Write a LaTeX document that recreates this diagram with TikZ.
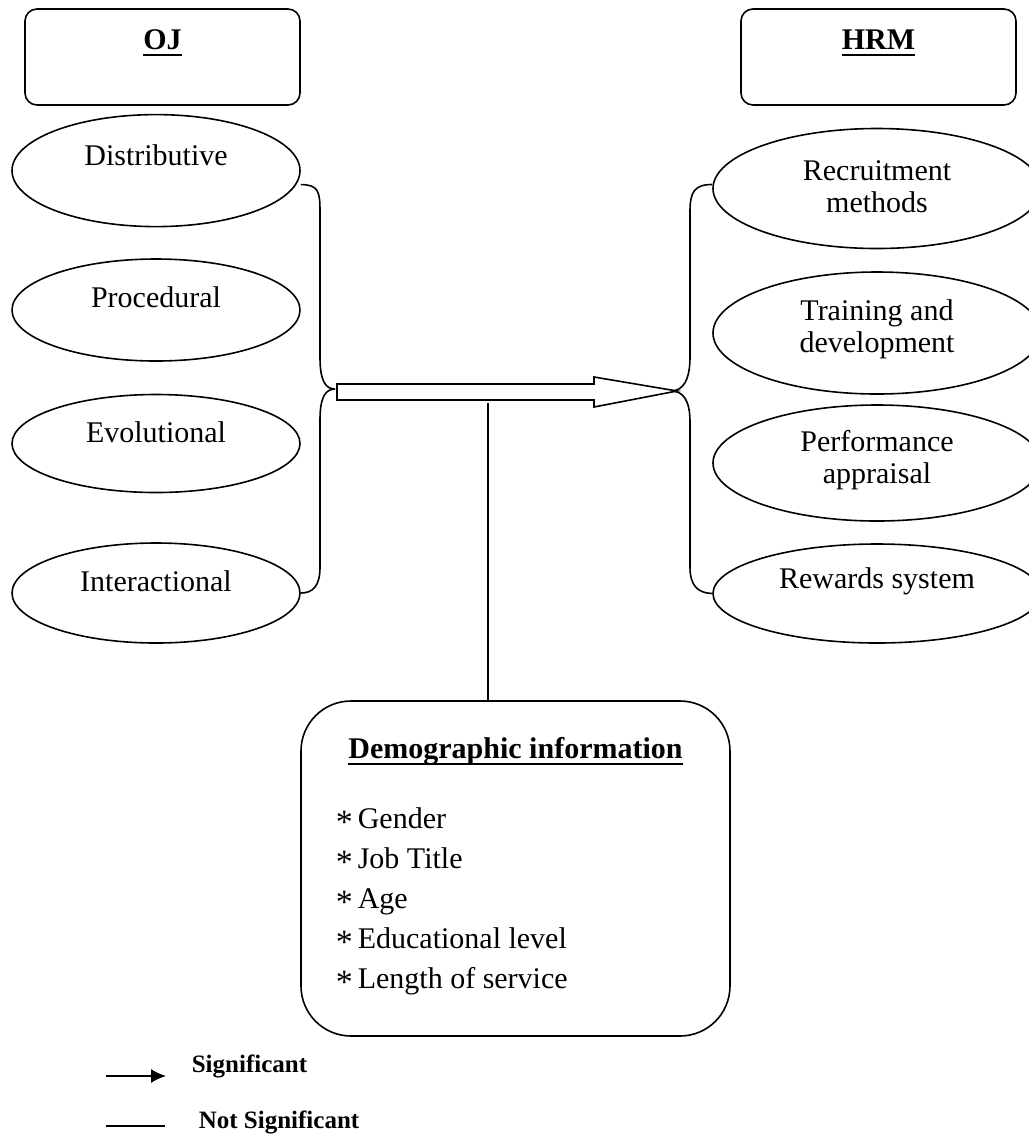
\documentclass[tikz,border=0pt]{standalone}
\usepackage{fontspec}
\setmainfont{Liberation Serif}
\usetikzlibrary{shapes.geometric,arrows.meta}
% thick underline for the bold headings
\newcommand\headline[1]{\setbox0\hbox{#1}\rlap{\rule[-3.6pt]{\wd0}{1.3pt}}\box0}
% asterisk for the list
\newcommand\listmark{\makebox[11pt][l]{\raisebox{-2.5pt}{\fontsize{17}{17}\selectfont *}}}

\begin{document}
\begin{tikzpicture}[x=0.5pt,y=-0.5pt,line width=0.8pt,
    font=\fontsize{15}{16}\selectfont,
    headbox/.style={draw,rounded corners=6pt,minimum width=137.5pt,minimum height=48pt},
    headtext/.style={anchor=base,font=\fontsize{15}{16}\selectfont\bfseries},
    oval/.style={draw,ellipse,inner sep=0pt},
    ovaltext/.style={align=center},
    demobox/.style={draw,rounded corners=25pt,minimum width=214.5pt,minimum height=167.5pt},
    itemtext/.style={anchor=base west,inner sep=0pt},
    legendtext/.style={anchor=base west,inner sep=0pt,font=\fontsize{12.5}{14}\selectfont\bfseries}]
  \clip (0,0) rectangle (1029,1137);
  % headings
  \node[headbox] (oj) at (162.5,57) {};
  \node[headtext] (ojlab) at ([yshift=-20.5pt]oj.north) {\headline{OJ}};
  \node[headbox] (hrm) at (878.5,57) {};
  \node[headtext] (hrmlab) at ([yshift=-20.5pt]hrm.north) {\headline{HRM}};
  % OJ dimensions
  \node[oval,minimum width=144pt,minimum height=56pt,
    label={[ovaltext,yshift=7.5pt]center:Distributive}] (dist) at (156,170.6) {};
  \node[oval,minimum width=144pt,minimum height=51pt,
    label={[ovaltext,yshift=6.5pt]center:Procedural}] (proc) at (156,310) {};
  \node[oval,minimum width=144pt,minimum height=49pt,
    label={[ovaltext,yshift=5.5pt]center:Evolutional}] (evol) at (156,443.5) {};
  \node[oval,minimum width=144pt,minimum height=50pt,
    label={[ovaltext,yshift=6pt]center:Interactional}] (inter) at (156,593) {};
  % HRM practices
  \node[oval,minimum width=164pt,minimum height=60pt,
    label={[ovaltext,yshift=1pt]center:Recruitment\\methods}] (recr) at (877,188.5) {};
  \node[oval,minimum width=164pt,minimum height=61pt,
    label={[ovaltext,yshift=2pt]center:Training and\\development}] (train) at (877,333) {};
  \node[oval,minimum width=164pt,minimum height=58pt,
    label={[ovaltext,yshift=1.5pt]center:Performance\\appraisal}] (perf) at (877,463) {};
  \node[oval,minimum width=164pt,minimum height=49.5pt,
    label={[ovaltext,yshift=6pt]center:Rewards system}] (rew) at (877,593.5) {};
  % braces
  \coordinate (ojtip) at (335,389);
  \coordinate (hrmtip) at (671,391);
  \draw ([yshift=-7pt]dist.east) .. controls +(18,0) and (320,192) .. (320,212)
    -- (320,357) .. controls (320,380) and (325,389) .. (ojtip);
  \draw (ojtip) .. controls (325,389) and (320,398) .. (320,420)
    -- (320,567) .. controls (320,586) and (313,593) .. (inter.east);
  \draw ([yshift=2pt]recr.west) .. controls +(-18,0) and (690,192) .. (690,212)
    -- (690,357) .. controls (690,380) and (683,391) .. (hrmtip);
  \draw (hrmtip) .. controls (683,391) and (690,400) .. (690,422)
    -- (690,567) .. controls (690,586) and (698,593) .. (rew.west);
  % block arrow
  \draw[fill=white] (337,384) -- (594,384) -- (594,377) -- (677,391)
    -- (594,407) -- (594,400) -- (337,400) -- cycle;
  % demographic information
  \node[demobox] (demo) at (515.5,868.5) {};
  \coordinate (stem) at (488,403);
  \draw (stem) -- (stem |- demo.north);
  \node[headtext] (demolab) at (515.5,758) {\headline{Demographic information}};
  \foreach \attr [count=\i] in {Gender,Job Title,Age,Educational level,Length of service}
    \node[itemtext] (item\i) at (335,788+40*\i) {\listmark\attr};
  % legend
  \coordinate (sigA) at (106,1076);
  \coordinate (sigB) at (166,1076);
  \draw[-{Latex[length=7.5pt,width=7pt]}] (sigA) -- (sigB);
  \node[legendtext] (siglab) at (191,1072) {Significant};
  \coordinate (nsA) at (106,1126);
  \coordinate (nsB) at (165,1126);
  \draw (nsA) -- (nsB);
  \node[legendtext] (nslab) at (198,1128) {Not Significant};
\end{tikzpicture}
\end{document}
